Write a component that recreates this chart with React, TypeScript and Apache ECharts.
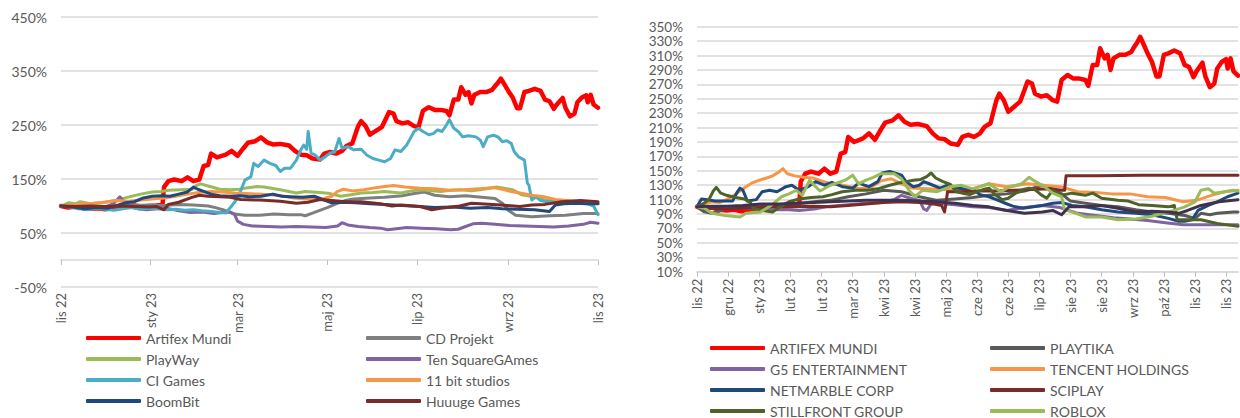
import React, { useEffect, useRef } from "react";
import * as echarts from "echarts";

// ---------- DATA (day offset from 2022-11-02, value in %) ----------
const ARTIFEX: number[][] = [[0,100],[5,97],[10,99],[15,96],[20,95],[25,96],[30,94],[35,96],[40,98],[45,100],[50,101],[55,99],[60,100],[65,101],[69,103],[70,135],[73,146],[77,149],[82,146],[86,153],[90,146],[94,149],[97,174],[100,176],[102,197],[106,190],[112,195],[116,202],[120,193],[124,207],[127,217],[132,220],[136,227],[140,218],[144,214],[149,215],[155,212],[159,202],[163,195],[167,194],[171,188],[176,186],[179,197],[183,200],[187,197],[191,202],[194,211],[198,216],[202,248],[204,257],[207,248],[210,232],[214,239],[218,246],[220,257],[223,274],[226,271],[228,257],[232,253],[236,255],[240,248],[243,246],[246,276],[250,283],[254,278],[258,278],[262,276],[264,268],[267,297],[270,297],[272,320],[275,306],[277,311],[279,290],[281,306],[285,311],[289,311],[293,315],[295,322],[297,328],[299,336],[301,327],[304,313],[307,301],[310,281],[312,281],[315,311],[318,313],[322,317],[326,313],[329,297],[332,294],[335,280],[337,288],[341,300],[343,281],[346,266],[349,271],[351,292],[354,301],[357,305],[358,292],[360,306],[362,288],[365,282]];

// left panel (Polish games companies)
const CD_PROJEKT: number[][] = [[0,100],[10,99],[20,98],[30,99],[40,100],[50,101],[60,102],[70,101],[80,103],[90,102],[100,100],[105,97],[110,93],[115,88],[118,85],[125,83],[135,83],[145,85],[155,84],[163,84],[166,82],[170,86],[175,91],[181,97],[187,104],[193,110],[199,113],[210,115],[220,116],[232,119],[240,123],[247,126],[254,120],[264,117],[275,119],[286,116],[295,114],[300,105],[304,92],[309,83],[320,80],[332,82],[343,83],[355,86],[365,86]];
const PLAYWAY: number[][] = [[0,100],[5,106],[10,104],[13,108],[20,104],[27,106],[37,110],[45,116],[54,122],[62,126],[68,127],[73,129],[81,130],[89,131],[92,138],[95,141],[100,137],[108,131],[115,130],[121,131],[127,134],[133,136],[138,135],[149,130],[160,124],[166,127],[176,125],[183,123],[190,118],[197,121],[204,124],[212,125],[220,127],[231,124],[238,128],[245,130],[258,127],[265,129],[272,130],[279,128],[285,130],[296,135],[303,132],[307,130],[313,121],[321,117],[329,111],[340,108],[353,105],[365,105]];
const TEN_SQUARE: number[][] = [[0,100],[8,99],[15,101],[22,97],[30,98],[36,105],[40,117],[44,104],[50,96],[58,93],[66,95],[72,96],[80,91],[88,88],[96,89],[104,86],[110,88],[115,89],[118,84],[120,72],[124,66],[130,63],[140,62],[150,61],[160,62],[170,61],[180,60],[188,63],[191,69],[195,65],[202,62],[210,60],[217,59],[222,56],[228,58],[235,60],[245,59],[255,58],[265,56],[270,57],[275,62],[280,67],[286,68],[295,66],[305,64],[315,63],[325,62],[335,61],[345,63],[355,66],[360,70],[365,68]];
const CI_GAMES: number[][] = [[0,100],[6,98],[12,95],[18,93],[24,96],[30,94],[36,92],[42,95],[48,97],[54,94],[60,96],[66,95],[72,93],[78,94],[84,92],[90,93],[96,91],[102,90],[108,88],[112,87],[116,100],[119,111],[122,127],[125,148],[129,154],[131,179],[134,173],[138,185],[142,179],[146,175],[149,164],[152,170],[156,170],[160,185],[163,204],[165,213],[167,205],[168,238],[170,198],[173,194],[176,185],[179,190],[183,198],[186,200],[189,225],[191,207],[195,210],[199,204],[204,205],[208,194],[212,188],[216,185],[220,182],[224,188],[227,204],[231,201],[235,213],[238,228],[240,238],[243,244],[246,238],[250,232],[253,234],[256,241],[259,238],[262,250],[264,260],[267,244],[270,238],[273,228],[277,230],[282,228],[285,222],[287,210],[290,228],[294,231],[297,228],[300,219],[303,221],[306,216],[308,201],[311,191],[313,188],[315,185],[317,142],[318,139],[320,111],[323,117],[326,110],[330,108],[334,109],[340,107],[346,106],[352,105],[358,104],[362,100],[365,84]];
const ELEVEN_BIT: number[][] = [[0,100],[8,102],[15,104],[22,105],[30,107],[38,110],[46,109],[54,111],[62,113],[70,115],[78,118],[86,122],[94,125],[102,127],[110,126],[118,124],[126,123],[134,122],[142,121],[150,119],[158,115],[166,113],[172,112],[178,113],[184,118],[188,127],[192,131],[198,128],[206,130],[214,134],[220,136],[226,138],[234,135],[244,133],[254,132],[264,129],[274,130],[284,132],[294,134],[300,131],[306,127],[312,124],[320,120],[328,117],[336,112],[344,110],[352,108],[360,107],[365,106]];
const BOOMBIT: number[][] = [[0,100],[8,98],[16,95],[24,97],[32,96],[38,101],[44,106],[50,108],[56,115],[62,118],[68,119],[74,118],[80,122],[86,126],[90,135],[93,131],[97,127],[102,122],[108,119],[115,118],[122,119],[128,117],[136,118],[144,122],[150,118],[156,117],[164,116],[172,118],[178,112],[184,106],[192,107],[200,106],[210,104],[220,103],[232,101],[244,99],[254,97],[266,98],[278,96],[290,97],[300,95],[310,94],[322,93],[332,90],[336,102],[342,104],[350,105],[358,104],[365,104]];
const HUUUGE: number[][] = [[0,100],[10,99],[20,100],[30,99],[40,100],[50,99],[60,98],[65,99],[70,93],[73,103],[80,107],[89,116],[94,120],[100,118],[108,117],[115,116],[122,112],[135,111],[149,109],[160,105],[168,107],[176,112],[184,110],[194,108],[204,108],[217,104],[225,100],[231,102],[244,99],[252,93],[258,96],[271,100],[279,105],[285,104],[299,102],[312,99],[320,102],[329,103],[340,108],[353,110],[365,108]];

// right panel (global peers)
const PLAYTIKA: number[][] = [[0,100],[5,93],[10,91],[14,93],[19,98],[31,100],[43,100],[55,102],[67,104],[79,107],[90,109],[102,114],[114,118],[126,123],[138,121],[150,114],[162,109],[174,111],[186,113],[197,116],[209,118],[221,122],[233,130],[240,125],[246,118],[252,108],[262,105],[273,102],[284,100],[296,96],[307,93],[318,91],[329,88],[336,84],[340,91],[346,89],[351,91],[362,93],[365,93]];
const G5: number[][] = [[0,100],[8,99],[19,98],[31,98],[43,97],[55,96],[62,96],[69,95],[79,97],[90,101],[102,103],[114,105],[124,106],[133,110],[138,116],[144,112],[150,109],[153,97],[155,95],[158,104],[162,105],[174,103],[186,100],[197,99],[209,95],[221,99],[233,102],[245,99],[257,91],[269,88],[281,85],[292,83],[304,81],[316,78],[328,75],[340,75],[352,75],[365,75]];
const TENCENT: number[][] = [[0,100],[5,104],[10,107],[15,106],[20,110],[25,116],[29,122],[33,128],[37,133],[42,137],[47,140],[51,143],[55,148],[58,153],[61,146],[66,143],[72,141],[78,140],[84,136],[90,132],[96,131],[103,128],[110,125],[118,128],[124,136],[131,139],[138,132],[145,126],[155,125],[165,124],[176,123],[186,125],[197,132],[209,128],[223,132],[233,130],[245,128],[257,121],[269,120],[280,118],[292,118],[304,114],[316,113],[328,107],[337,109],[347,116],[356,121],[365,123]];
const NETMARBLE: number[][] = [[0,100],[3,111],[7,110],[12,108],[18,108],[24,108],[27,120],[29,126],[31,123],[34,108],[40,110],[44,121],[49,123],[54,121],[60,128],[64,130],[69,123],[75,128],[80,135],[86,130],[91,134],[98,128],[105,126],[109,133],[116,128],[122,135],[125,147],[130,149],[135,146],[138,144],[141,135],[146,128],[150,130],[153,135],[158,131],[164,126],[169,130],[175,126],[180,125],[186,124],[191,117],[197,114],[202,110],[208,105],[213,101],[220,98],[227,100],[233,102],[240,105],[246,106],[253,102],[262,100],[273,96],[284,93],[296,91],[307,89],[318,84],[325,80],[329,80],[334,82],[338,95],[345,102],[351,107],[358,114],[365,119]];
const SCIPLAY: number[][] = [[0,100],[10,98],[20,97],[31,98],[43,99],[55,101],[67,100],[79,101],[90,100],[102,102],[114,104],[126,106],[138,107],[150,106],[160,104],[165,102],[167,93],[168,105],[169,121],[178,121],[190,122],[202,122],[214,123],[226,124],[238,125],[246,123],[248,123],[249,143],[270,143],[300,144],[330,144],[365,144]];
const STILLFRONT: number[][] = [[0,100],[4,104],[8,110],[11,122],[13,127],[16,119],[20,116],[26,113],[32,111],[36,106],[38,98],[44,95],[51,93],[56,100],[62,107],[69,111],[77,113],[85,114],[91,117],[98,121],[107,123],[115,123],[122,125],[130,130],[136,133],[141,135],[146,137],[151,138],[155,142],[158,147],[161,140],[166,135],[171,131],[175,121],[179,119],[184,117],[189,121],[193,124],[197,126],[201,117],[206,110],[210,112],[215,119],[220,124],[224,126],[228,124],[232,117],[236,112],[240,123],[246,116],[253,119],[262,116],[267,119],[273,112],[284,109],[291,108],[298,103],[307,102],[318,100],[322,102],[324,82],[329,82],[340,82],[351,77],[358,75],[365,73]];
const ROBLOX: number[][] = [[0,100],[5,98],[10,91],[19,88],[29,86],[33,91],[43,93],[50,102],[57,114],[62,118],[67,123],[71,116],[76,137],[80,128],[83,122],[90,130],[100,137],[105,144],[109,132],[114,137],[119,141],[124,146],[133,146],[138,139],[143,123],[147,114],[152,123],[162,121],[171,128],[178,130],[186,125],[197,132],[205,121],[209,126],[219,132],[224,141],[227,137],[231,132],[235,127],[240,119],[246,114],[248,96],[253,93],[262,86],[273,86],[284,82],[296,83],[307,87],[314,91],[322,95],[329,100],[336,107],[340,123],[345,125],[349,119],[356,121],[362,123],[365,122]];
const DARK_PEER: number[][] = [[0,100],[10,101],[20,101],[31,102],[43,104],[55,104],[67,105],[79,106],[90,107],[102,108],[114,109],[126,109],[138,109],[150,108],[162,107],[174,105],[186,102],[197,100],[209,95],[221,91],[233,93],[240,95],[246,89],[251,100],[262,100],[273,102],[284,98],[296,93],[307,94],[318,93],[325,91],[331,95],[340,102],[352,107],[365,110]];

// axis ticks
const LEFT_TICK_DAYS = [0, 61, 120, 181, 242, 304, 365];
const LEFT_TICK_LABELS = ["lis 22", "sty 23", "mar 23", "maj 23", "lip 23", "wrz 23", "lis 23"];
const RIGHT_TICK_DAYS = [0, 21, 42, 63, 84, 105, 126, 147, 168, 189, 210, 231, 252, 273, 294, 315, 336, 357];
const RIGHT_TICK_LABELS = ["lis 22", "gru 22", "sty 23", "lut 23", "lut 23", "mar 23", "kwi 23", "kwi 23", "maj 23", "cze 23", "cze 23", "lip 23", "sie 23", "sie 23", "wrz 23", "paź 23", "lis 23", "lis 23"];

const FONT = "Lato";
const TXT = "#595959";
const GRIDC = "#D9D9D9";

function lineSeries(name: string | undefined, data: number[][], color: string, width: number, idx: number) {
  return {
    type: "line",
    name,
    data,
    xAxisIndex: idx,
    yAxisIndex: idx,
    showSymbol: false,
    symbol: "none",
    silent: true,
    lineStyle: { color, width, cap: "round", join: "round" },
    itemStyle: { color },
  };
}

function labelFor(days: number[], labels: string[]) {
  return (v: number) => {
    let best = 0;
    for (let i = 0; i < days.length; i++) if (Math.abs(days[i] - v) < Math.abs(days[best] - v)) best = i;
    return labels[best];
  };
}

const legendCommon = {
  orient: "vertical",
  icon: "roundRect",
  itemWidth: 55,
  itemHeight: 4,
  itemGap: 7,
  padding: 0,
  selectedMode: false,
  textStyle: { fontFamily: FONT, fontSize: 14, color: TXT, lineHeight: 14 },
};

export default function App() {
  const ref = useRef<HTMLDivElement>(null);
  useEffect(() => {
    if (!ref.current) return;
    const chart = echarts.init(ref.current, null, { renderer: "svg" });
    const xAxisBase = {
      type: "value",
      min: 0,
      max: 365,
      splitLine: { show: false },
      axisLine: { show: true, lineStyle: { color: GRIDC, width: 1.5 } },
      axisTick: { show: true, length: 5, lineStyle: { color: "#BFBFBF", width: 1 } },
    };
    chart.setOption({
      animation: false,
      textStyle: { fontFamily: FONT },
      grid: [
        { left: 61, right: 642, top: 17, bottom: 131 },
        { left: 697, right: 2, top: 26.7, bottom: 146.3 },
      ],
      xAxis: [
        {
          ...xAxisBase,
          gridIndex: 0,
          axisLine: { ...xAxisBase.axisLine, onZero: true },
          axisTick: { ...xAxisBase.axisTick, customValues: LEFT_TICK_DAYS },
          axisLabel: {
            customValues: LEFT_TICK_DAYS,
            rotate: 90,
            margin: 6,
            fontFamily: FONT,
            fontSize: 13,
            color: TXT,
            formatter: labelFor(LEFT_TICK_DAYS, LEFT_TICK_LABELS),
          },
        },
        {
          ...xAxisBase,
          gridIndex: 1,
          axisTick: { ...xAxisBase.axisTick, customValues: RIGHT_TICK_DAYS },
          axisLabel: {
            customValues: RIGHT_TICK_DAYS,
            rotate: 90,
            margin: 7,
            fontFamily: FONT,
            fontSize: 13,
            color: TXT,
            formatter: labelFor(RIGHT_TICK_DAYS, RIGHT_TICK_LABELS),
          },
        },
      ],
      yAxis: [
        {
          type: "value",
          gridIndex: 0,
          min: -50,
          max: 450,
          interval: 100,
          axisLine: { show: false },
          axisTick: { show: false },
          splitLine: { show: true, lineStyle: { color: GRIDC, width: 1.5 } },
          axisLabel: { fontFamily: FONT, fontSize: 14, color: TXT, margin: 14, formatter: "{value}%" },
        },
        {
          type: "value",
          gridIndex: 1,
          min: 10,
          max: 350,
          interval: 20,
          axisLine: { show: false },
          axisTick: { show: false },
          splitLine: { show: true, lineStyle: { color: GRIDC, width: 1.5 } },
          axisLabel: { fontFamily: FONT, fontSize: 13.5, lineHeight: 12, color: TXT, margin: 14, formatter: "{value}%" },
        },
      ],
      legend: [
        { ...legendCommon, left: 86, top: 331, data: ["Artifex Mundi", "PlayWay", "CI Games", "BoomBit"] },
        { ...legendCommon, left: 366, top: 331, data: ["CD Projekt", "Ten SquareGAmes", "11 bit studios", "Huuuge Games"] },
        { ...legendCommon, left: 710, top: 341, data: ["ARTIFEX MUNDI", "G5 ENTERTAINMENT", "NETMARBLE CORP", "STILLFRONT GROUP"] },
        { ...legendCommon, left: 990, top: 341, data: ["PLAYTIKA", "TENCENT HOLDINGS", "SCIPLAY", "ROBLOX"] },
      ],
      series: [
        lineSeries("Artifex Mundi", ARTIFEX, "#FF0000", 4.5, 0),
        lineSeries("CD Projekt", CD_PROJEKT, "#7F7F7F", 3, 0),
        lineSeries("PlayWay", PLAYWAY, "#9BBB59", 3, 0),
        lineSeries("Ten SquareGAmes", TEN_SQUARE, "#8064A2", 3, 0),
        lineSeries("CI Games", CI_GAMES, "#4BACC6", 3, 0),
        lineSeries("11 bit studios", ELEVEN_BIT, "#F79646", 3, 0),
        lineSeries("BoomBit", BOOMBIT, "#1F497D", 3, 0),
        lineSeries("Huuuge Games", HUUUGE, "#772C2A", 3, 0),

        lineSeries("ARTIFEX MUNDI", ARTIFEX, "#FF0000", 4.5, 1),
        lineSeries("PLAYTIKA", PLAYTIKA, "#595959", 3, 1),
        lineSeries("G5 ENTERTAINMENT", G5, "#8064A2", 3, 1),
        lineSeries("TENCENT HOLDINGS", TENCENT, "#F79646", 3, 1),
        lineSeries("NETMARBLE CORP", NETMARBLE, "#1F497D", 3, 1),
        lineSeries("SCIPLAY", SCIPLAY, "#772C2A", 3, 1),
        lineSeries("STILLFRONT GROUP", STILLFRONT, "#4F6228", 3, 1),
        lineSeries("ROBLOX", ROBLOX, "#9BBB59", 3, 1),
        lineSeries(undefined, DARK_PEER, "#403151", 3, 1),
      ],
    });
    return () => chart.dispose();
  }, []);
  return <div ref={ref} style={{ position: "absolute", left: 0, top: 0, width: 1240, height: 418 }} />;
}
